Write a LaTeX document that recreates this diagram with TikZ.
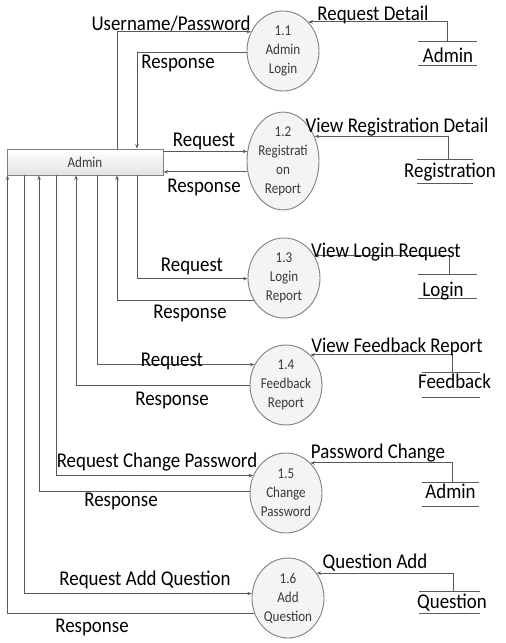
\documentclass[tikz,border=0pt]{standalone}
\usepackage{fontspec}
\setmainfont{Carlito}
\newfontfamily\lblfont[FakeStretch=0.9]{Carlito}
\newfontfamily\smfont[FakeStretch=0.87]{Carlito}
\usetikzlibrary{arrows.meta,shapes.geometric,calc}
\definecolor{lncol}{HTML}{5A5A5A}
\definecolor{bdcol}{HTML}{808080}
\definecolor{txcol}{HTML}{3A3A3A}
\tikzset{
  flow/.style={draw=lncol,line width=0.9pt,-{Stealth[length=4.5pt,width=3.5pt]}},
  plain/.style={draw=lncol,line width=0.9pt},
  proc/.style={ellipse,draw=bdcol,line width=0.9pt,fill=gray!9,minimum width=72pt,minimum height=80pt,inner sep=0pt,
    align=center,text=txcol,font={\smfont\fontsize{15}{19}\selectfont}},
  entity/.style={rectangle,draw=bdcol,line width=0.9pt,top color=white,bottom color=gray!22,
    minimum width=156pt,minimum height=26pt,inner sep=0pt,text=txcol,font={\smfont\fontsize{15}{18}\selectfont}},
  lbl/.style={anchor=base,inner sep=0pt,text=black,font={\lblfont\fontsize{21}{24}\selectfont}},
  storebox/.style={rectangle,draw=none,inner sep=0pt,minimum height=23pt,
    append after command={(\tikzlastnode.north west) edge[plain] (\tikzlastnode.north east)
      (\tikzlastnode.south west) edge[plain] (\tikzlastnode.south east)}},
}
\begin{document}
\begin{tikzpicture}[x=1pt,y=-1pt]
\useasboundingbox (0,0) rectangle (506,643);
\fill[white] (0,0) rectangle (506,643);

% external entity
\node[entity] (admin) at (85,162) {Admin};

% processes
\node[proc] (p1) at (283,51) {1.1\\Admin\\Login};
\node[proc] (p2) at (283,161) {1.2\\Registrati\\on\\Report};
\node[proc] (p3) at (284,278) {1.3\\Login\\Report};
\node[proc] (p4) at (286,385) {1.4\\Feedback\\Report};
\node[proc] (p5) at (286,493) {1.5\\Change\\Password};
\node[proc] (p6) at (288,598) {1.6\\Add\\Question};

% data stores
\node[storebox,minimum width=59pt] (s1) at (447.5,53.5) {};
\node[storebox,minimum width=56pt] (s2) at (445,171.5) {};
\node[storebox,minimum width=59pt] (s3) at (447.5,286.5) {};
\node[storebox,minimum width=58pt,minimum height=24pt] (s4) at (451,385) {};
\node[storebox,minimum width=57pt] (s5) at (450.5,494.5) {};
\node[storebox,minimum width=61pt,minimum height=21pt] (s6) at (449.5,602.5) {};
\node[lbl] (s1t) at (448,62) {Admin};
\node[lbl] (s2t) at (450,177) {Registration};
\node[lbl] (s3t) at (443,296) {Login};
\node[lbl] (s4t) at (454.5,388) {Feedback};
\node[lbl] (s5t) at (450.5,498) {Admin};
\node[lbl] (s6t) at (452,608) {Question};

% admin <-> processes
\draw[flow] (admin.north -| 117,0) |- (p1.149.1);
\draw[flow] (p1.183.2) -| (admin.north -| 137,0);
\draw[flow] (admin.east |- p2.165.6) -- (p2.165.6);
\draw[flow] (p2.197.6) -- (admin.east |- p2.197.6);
\draw[flow] (admin.south -| 137,0) |- (p3.181.6);
\draw[flow] (p3.216.2) -| (admin.south -| 117,0);
\draw[flow] (admin.south -| 97,0) |- (p4.147.3);
\draw[flow] (p4.180) -| (admin.south -| 76,0);
\draw[flow] (admin.south -| 56,0) |- (p5.152.5);
\draw[flow] (p5.178.4) -| (admin.south -| 39,0);
\draw[flow] (admin.south -| 24,0) |- (p6.173.6);
\draw[flow] (p6.204.2) -| (admin.south -| 7.5,0);

% stores -> processes
\draw[flow] (s1.north) |- (p1.49.5);
\draw[flow] ([xshift=3pt]s2.north) |- (p2.38);
\draw[flow] ([xshift=1.5pt]s3.north) |- (p3.36.2);
\draw[flow] ([xshift=1pt]s4.north) |- (p4.51.6);
\draw[flow] ([xshift=1.5pt]s5.north) |- (p5.51.6);
\draw[flow] ([xshift=3.5pt]s6.north) |- (p6.41.7);

% labels
\node[lbl] (l1) at (171,30) {Username/Password};
\node[lbl] (l2) at (178,68) {Response};
\node[lbl] (l3) at (373,20) {Request Detail};
\node[lbl] (l4) at (204,146) {Request};
\node[lbl] (l5) at (204,192) {Response};
\node[lbl] (l6) at (397,132) {View Registration Detail};
\node[lbl] (l7) at (192,271) {Request};
\node[lbl] (l8) at (190,318) {Response};
\node[lbl] (l9) at (386,257) {View Login Request};
\node[lbl] (l10) at (172,366) {Request};
\node[lbl] (l11) at (172,405) {Response};
\node[lbl] (l12) at (397,352) {View Feedback Report};
\node[lbl] (l13) at (157,467) {Request Change Password};
\node[lbl] (l14) at (121,506) {Response};
\node[lbl] (l15) at (378,458) {Password Change};
\node[lbl] (l16) at (145,585) {Request Add Question};
\node[lbl] (l17) at (92,632) {Response};
\node[lbl] (l18) at (375,568) {Question Add};
\end{tikzpicture}
\end{document}
